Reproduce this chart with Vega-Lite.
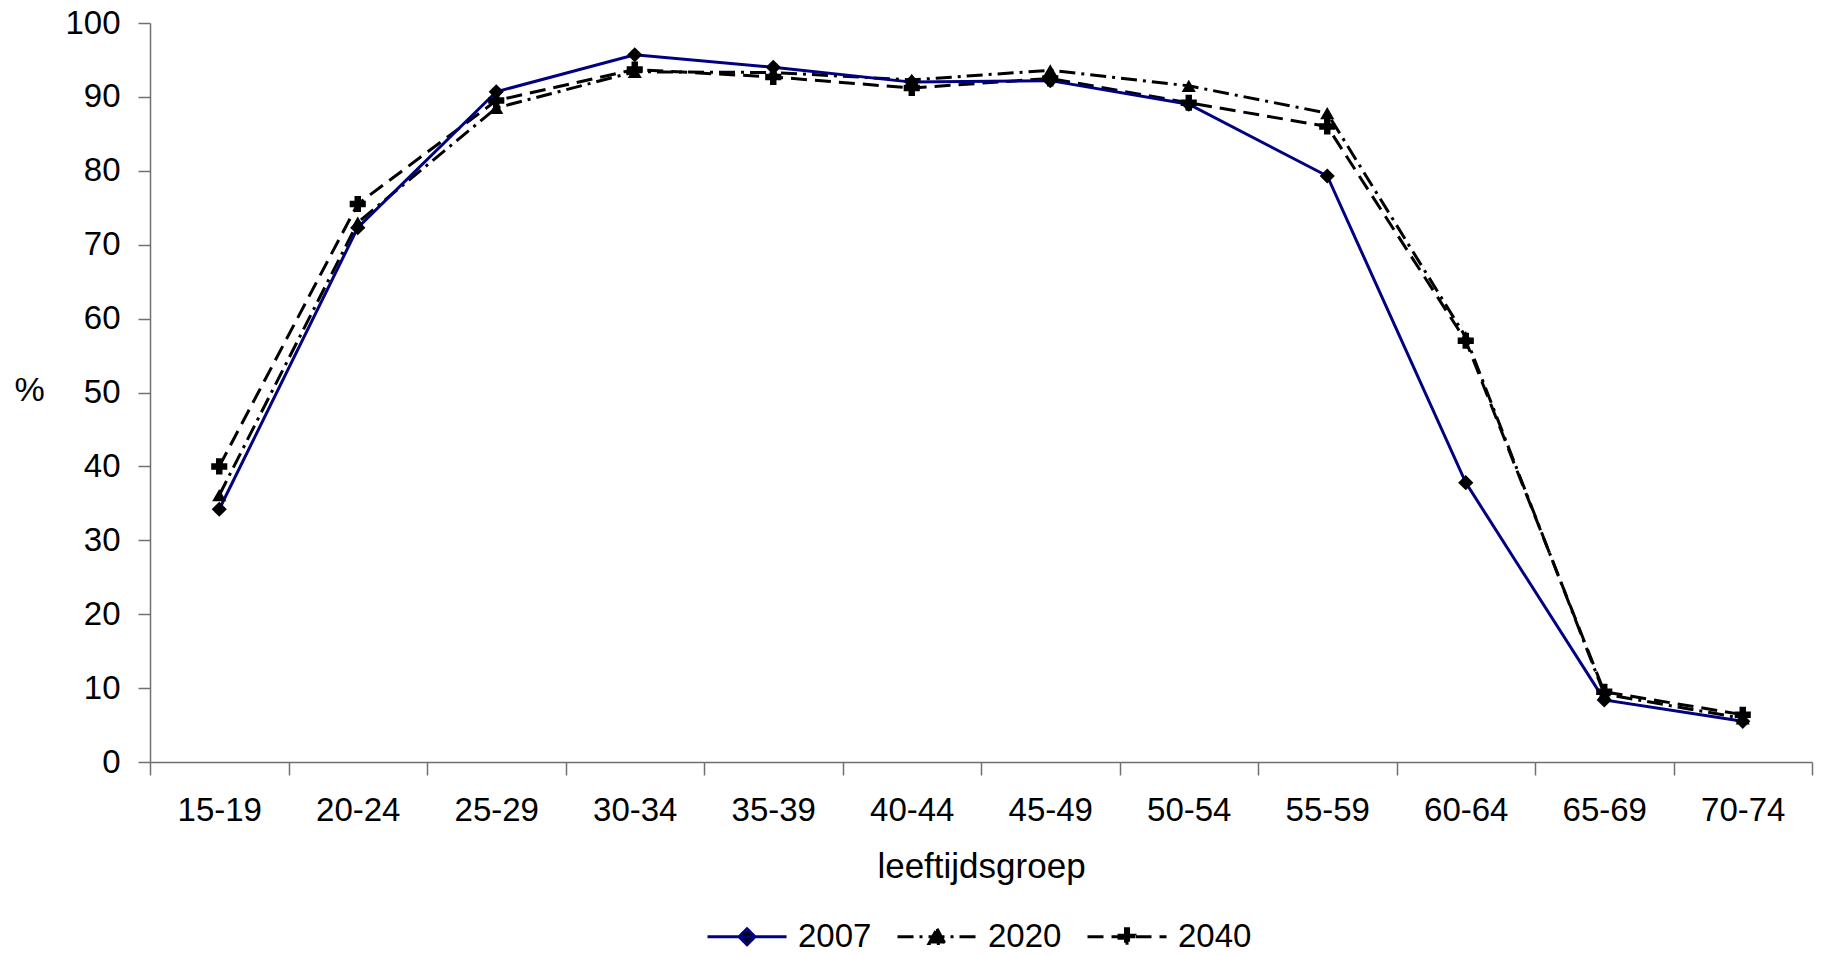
{
  "$schema": "https://vega.github.io/schema/vega-lite/v6.json",
  "width": 1662,
  "height": 739,
  "autosize": {"type": "none"},
  "padding": {"left": 150, "top": 23, "right": 10, "bottom": 194},
  "background": "white",
  "config": {
    "view": {"stroke": null},
    "font": "Liberation Sans",
    "axis": {
      "domainColor": "#707070",
      "domainWidth": 1.5,
      "tickColor": "#707070",
      "tickWidth": 1.5,
      "labelColor": "black",
      "titleColor": "black",
      "labelFont": "Liberation Sans",
      "titleFont": "Liberation Sans",
      "titleFontWeight": "normal",
      "grid": false
    }
  },
  "data": {
    "values": [
      {"groep": "15-19", "jaar": "2007", "pct": 34.2},
      {"groep": "20-24", "jaar": "2007", "pct": 72.3},
      {"groep": "25-29", "jaar": "2007", "pct": 90.7},
      {"groep": "30-34", "jaar": "2007", "pct": 95.7},
      {"groep": "35-39", "jaar": "2007", "pct": 94.0},
      {"groep": "40-44", "jaar": "2007", "pct": 92.0},
      {"groep": "45-49", "jaar": "2007", "pct": 92.2},
      {"groep": "50-54", "jaar": "2007", "pct": 89.0},
      {"groep": "55-59", "jaar": "2007", "pct": 79.3},
      {"groep": "60-64", "jaar": "2007", "pct": 37.8},
      {"groep": "65-69", "jaar": "2007", "pct": 8.4},
      {"groep": "70-74", "jaar": "2007", "pct": 5.5},
      {"groep": "15-19", "jaar": "2020", "pct": 36.1},
      {"groep": "20-24", "jaar": "2020", "pct": 73.0},
      {"groep": "25-29", "jaar": "2020", "pct": 88.5},
      {"groep": "30-34", "jaar": "2020", "pct": 93.4},
      {"groep": "35-39", "jaar": "2020", "pct": 93.3},
      {"groep": "40-44", "jaar": "2020", "pct": 92.3},
      {"groep": "45-49", "jaar": "2020", "pct": 93.6},
      {"groep": "50-54", "jaar": "2020", "pct": 91.5},
      {"groep": "55-59", "jaar": "2020", "pct": 87.8},
      {"groep": "60-64", "jaar": "2020", "pct": 57.5},
      {"groep": "65-69", "jaar": "2020", "pct": 9.2},
      {"groep": "70-74", "jaar": "2020", "pct": 5.9},
      {"groep": "15-19", "jaar": "2040", "pct": 40.0},
      {"groep": "20-24", "jaar": "2040", "pct": 75.5},
      {"groep": "25-29", "jaar": "2040", "pct": 89.5},
      {"groep": "30-34", "jaar": "2040", "pct": 93.7},
      {"groep": "35-39", "jaar": "2040", "pct": 92.7},
      {"groep": "40-44", "jaar": "2040", "pct": 91.2},
      {"groep": "45-49", "jaar": "2040", "pct": 92.5},
      {"groep": "50-54", "jaar": "2040", "pct": 89.2},
      {"groep": "55-59", "jaar": "2040", "pct": 86.0},
      {"groep": "60-64", "jaar": "2040", "pct": 57.0},
      {"groep": "65-69", "jaar": "2040", "pct": 9.5},
      {"groep": "70-74", "jaar": "2040", "pct": 6.4}
    ]
  },
  "encoding": {
    "x": {
      "field": "groep",
      "type": "nominal",
      "sort": null,
      "scale": {"type": "band", "paddingInner": 0, "paddingOuter": 0},
      "axis": {
        "title": "leeftijdsgroep",
        "titleFontSize": 35,
        "titleBaseline": "alphabetic",
        "titleY": 115,
        "labelAngle": 0,
        "labelFontSize": 33,
        "labelBaseline": "alphabetic",
        "labelPadding": 45,
        "tickSize": 13,
        "tickBand": "extent"
      }
    },
    "y": {
      "field": "pct",
      "type": "quantitative",
      "scale": {"domain": [0, 100], "nice": false, "zero": true},
      "axis": {
        "title": "%",
        "titleAngle": 0,
        "titleFontSize": 34,
        "titleX": -121,
        "titleY": 367,
        "titleAlign": "center",
        "titleBaseline": "middle",
        "values": [0, 10, 20, 30, 40, 50, 60, 70, 80, 90, 100],
        "labelFontSize": 33,
        "tickSize": 12,
        "labelPadding": 18
      }
    }
  },
  "layer": [
    {
      "transform": [{"filter": "datum.jaar === '2020'"}],
      "mark": {"type": "line", "strokeWidth": 3, "strokeDash": [16, 6, 3, 6]},
      "encoding": {
        "color": {
          "field": "jaar",
          "type": "nominal",
          "scale": {"domain": ["2007", "2020", "2040"], "range": ["#000080", "#000000", "#000000"]},
          "legend": {
            "orient": "none",
            "legendX": 556,
            "legendY": 893,
            "direction": "horizontal",
            "title": null,
            "labelFontSize": 33,
            "labelColor": "black",
            "symbolSize": 1444,
            "symbolStrokeWidth": 3,
            "labelOffset": 51,
            "columnPadding": 19,
            "padding": 0,
            "encode": {
              "symbols": {
                "update": {
                  "shape": {"signal": "datum.value === '2007' ? 'M-1,0H3.16M1.08,-0.42L1.5,0L1.08,0.42L0.66,0Z' : datum.value === '2020' ? 'M-1,0H3.16M1.08,-0.42L1.5,0.36L0.66,0.36Z' : 'M-1,0H3.16M0.66,-0.08H1.5V0.08H0.66ZM1,-0.42H1.16V0.42H1Z'"},
                  "fill": {"value": "black"},
                  "fillOpacity": {"value": 1},
                  "opacity": {"value": 1},
                  "strokeWidth": {"value": 3},
                  "strokeDash": {"signal": "datum.value === '2020' ? [16, 6, 3, 6] : datum.value === '2040' ? [16, 8] : [1, 0]"}
                }
              }
            }
          }
        }
      }
    },
    {
      "transform": [{"filter": "datum.jaar === '2040'"}],
      "mark": {"type": "line", "strokeWidth": 3, "strokeDash": [16, 8]},
      "encoding": {
        "color": {"field": "jaar", "type": "nominal"}
      }
    },
    {
      "transform": [{"filter": "datum.jaar === '2007'"}],
      "mark": {"type": "line", "strokeWidth": 3},
      "encoding": {
        "color": {"field": "jaar", "type": "nominal"}
      }
    },
    {
      "transform": [{"filter": "datum.jaar === '2007'"}],
      "mark": {"type": "point", "shape": "diamond", "filled": true, "size": 230, "opacity": 1, "color": "black"},
      "encoding": {}
    },
    {
      "transform": [{"filter": "datum.jaar === '2020'"}],
      "mark": {"type": "point", "shape": "triangle-up", "filled": true, "size": 200, "opacity": 1, "color": "black"},
      "encoding": {}
    },
    {
      "transform": [{"filter": "datum.jaar === '2040'"}],
      "mark": {"type": "point", "shape": "cross", "filled": true, "size": 260, "opacity": 1, "color": "black"},
      "encoding": {}
    }
  ]
}
